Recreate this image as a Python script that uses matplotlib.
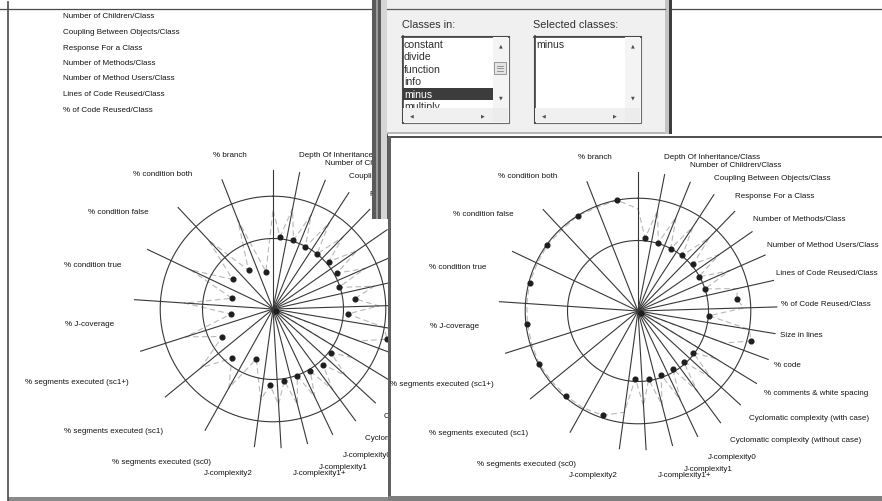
import numpy as np
import matplotlib.pyplot as plt
from matplotlib.patches import Rectangle

W, H = 882, 502

metrics = [
    "Depth Of Inheritance/Class", "Number of Children/Class",
    "Coupling Between Objects/Class", "Response For a Class",
    "Number of Methods/Class", "Number of Method Users/Class",
    "Lines of Code Reused/Class", "% of Code Reused/Class",
    "Size in lines", "% code", "% comments & white spacing",
    "Cyclomatic complexity (with case)", "Cyclomatic complexity (without case)",
    "J-complexity0", "J-complexity1", "J-complexity1+", "J-complexity2",
    "% segments executed (sc0)", "% segments executed (sc1)",
    "% segments executed (sc1+)", "% J-coverage", "% condition true",
    "% condition false", "% condition both", "% branch",
]
n_static = 17          # static metrics take the first part of the dial
static_span = 187.7    # degrees used by the static metrics

# metric values, 1.0 = reference ring
all_classes = [1.03, 1.02, 0.99, 1.00, 1.04, 1.04, 0.98, 1.17, 1.06, 1.67,
               0.05, 1.03, 1.06, 1.03, 1.01, 1.03, 1.08,
               0.75, 0.91, 0.82, 0.60, 0.60, 0.71, 0.65, 0.54]
minus = [1.04, 1.01, 1.00, 1.01, 1.03, 0.99, 1.00, 1.41, 1.01, 1.66,
         0.05, 0.98, 0.97, 0.96, 0.96, 0.98, 0.96,
         1.56, 1.58, 1.59, 1.58, 1.59, 1.59, 1.60, 1.60]

# spread of the metric across the classes, read on each spoke
all_classes_spread = [1.40, 1.45, 1.44, 1.46, 1.42, 1.45, 1.43, 1.47, 1.50, 1.60,
                      1.30, 1.32, 1.40, 1.42, 1.38, 1.40, 1.36,
                      1.30, 1.28, 1.32, 1.30, 1.26, 1.30, 1.34, 1.36]
minus_spread = [1.45, 1.45, 1.44, 1.42, 1.45, 1.40, 1.42, 1.45, 1.50, 1.60,
                1.30, 1.30, 1.40, 1.41, 1.40, 1.38, 1.35,
                1.45, 1.58, 1.58, 1.58, 1.58, 1.58, 1.58, 1.58]

rings = [1.0, 1.6]
spoke_len = 1.97

class_list = ["constant", "divide", "function", "info", "minus", "multiply"]
selected = ["minus"]

LABEL_FONT = "Liberation Sans"
LABEL_SIZE = 5.8

widths = [static_span / n_static] * n_static + \
         [(360 - static_span) / (len(metrics) - n_static)] * (len(metrics) - n_static)
bounds = np.concatenate([[0], np.cumsum(widths)])
mids = (bounds[:-1] + bounds[1:]) / 2

fig = plt.figure(figsize=(W / 100, H / 100), dpi=100)


def pixel_axes():
    a = fig.add_axes([0, 0, 1, 1])
    a.set_xlim(0, W)
    a.set_ylim(H, 0)
    a.set_axis_off()
    return a


def box(a, x, y, w, h, fc, ec="none", lw=0.0, z=1):
    a.add_patch(Rectangle((x, y), w, h, facecolor=fc, edgecolor=ec, linewidth=lw, zorder=z))


def arrow(a, x, y, ch, z=5):
    a.text(x, y, ch, fontsize=3.5, ha="center", va="center", color="#505050",
           family="DejaVu Sans", zorder=z)


def kiviat(cx, cy, vals, spread):
    rad = 141
    ax = fig.add_axes([(cx - rad) / W, (H - cy - rad) / H, 2 * rad / W, 2 * rad / H],
                      projection="polar")
    ax.set_theta_zero_location("N")
    ax.set_theta_direction(-1)
    ax.set_ylim(0, 2.0)
    ax.set_axis_off()

    # grey zigzag: spoke spread -> sector value -> next spoke spread
    th, rr = [], []
    for k in range(len(vals)):
        th += [bounds[k], mids[k]]
        rr += [spread[k], vals[k]]
    th.append(360)
    rr.append(spread[0])
    ax.plot(np.radians(th), rr, color="#b8b8b8", lw=0.8, ls=(0, (5, 3)))

    t = np.linspace(0, 2 * np.pi, 400)
    for r in rings:
        ax.plot(t, np.full_like(t, r), color="#383838", lw=0.8)
    for b in np.radians(bounds[:-1]):
        ax.plot([b, b], [0, spoke_len], color="#383838", lw=0.8)
    ax.plot(np.radians(mids), vals, "o", ms=3.4, color="#1e1e1e", ls="none")

    for lab, m in zip(metrics, mids):
        a = np.radians(m + 3)
        right = m < 180
        dx = 137 * np.sin(a) + 6 if right else 153 * np.sin(a) - 6
        dy = 160 * np.cos(a) - 4
        ax.annotate(lab, xy=(0, 0), xytext=(dx * 0.72, dy * 0.72),
                    textcoords="offset points", ha="left" if right else "right",
                    va="center", fontsize=LABEL_SIZE, family=LABEL_FONT, color="#141414")
    return ax


# left window
bg = pixel_axes()
bg.plot([0, W], [10, 10], color="#4a4a4a", lw=0.9)
bg.plot([8, 8], [3, H], color="#4a4a4a", lw=1.2)
box(bg, 8, 498, 380, 4, "#8a8a8a")
for i, lab in enumerate(metrics[1:8]):
    bg.text(63, 17 + i * 15.5, lab, fontsize=LABEL_SIZE, family=LABEL_FONT, va="center",
            color="#141414")

kiviat(273, 310, all_classes, all_classes_spread)

# class selection dialog and second window
ov = pixel_axes()
box(ov, 372, 0, 16, 220, "#5a5a5a")
box(ov, 376, 0, 2, 220, "#9a9a9a")
box(ov, 381, 0, 6, 220, "#d6d6d6")
box(ov, 387, 0, 278, 135, "#f0f0f0")
ov.plot([387, 665], [10, 10], color="#5a5a5a", lw=0.9)
box(ov, 665, 0, 4, 135, "#c4c4c4")
box(ov, 669, 0, 3, 135, "#3e3e3e")
box(ov, 387, 133, 278, 2, "#b8b8b8")

ov.text(402, 25, "Classes in:", fontsize=7.8, family="Liberation Sans", va="center",
        color="#303030")
ov.text(533, 25, "Selected classes:", fontsize=7.8, family="Liberation Sans", va="center",
        color="#303030")

for x0 in (402, 534):
    box(ov, x0, 37, 107, 87, "white", ec="#6a6a6a", lw=0.8)
    ov.plot([x0, x0 + 107], [37.5, 37.5], color="#404040", lw=1.2)
    ov.plot([x0 + 0.5, x0 + 0.5], [37, 124], color="#404040", lw=1.2)
    box(ov, x0 + 91, 38, 15, 71, "#f4f4f4", z=4)
    box(ov, x0 + 1, 109, 90, 14, "#f0f0f0", z=4)
    box(ov, x0 + 91, 109, 15, 14, "#ececec", z=4)
    arrow(ov, x0 + 98.5, 46, "\u25b2")
    arrow(ov, x0 + 98.5, 98, "\u25bc")
    arrow(ov, x0 + 10, 116, "\u25c0")
    arrow(ov, x0 + 81, 116, "\u25b6")

# scroll thumb of the class list
box(ov, 494, 63, 12, 12, "#e4e4e4", ec="#8a8a8a", lw=0.6, z=5)
for yy in (66.5, 69, 71.5):
    ov.plot([497, 503], [yy, yy], color="#707070", lw=0.5, zorder=6)

for i, name in enumerate(class_list):
    y = 44.5 + i * 12.6
    if name in selected:
        box(ov, 403, y - 5.5, 90, 11.5, "#3c3c3c", z=2)
        col = "white"
    else:
        col = "#303030"
    ov.text(404, y, name, fontsize=7.6, family="Liberation Sans", va="center", color=col,
            zorder=3)
for i, name in enumerate(selected):
    ov.text(536, 44.5 + i * 12.6, name, fontsize=7.6, family="Liberation Sans", va="center",
            color="#303030")

box(ov, 388, 137, W - 388, H - 137, "white", z=7)
ov.plot([388, W], [138, 138], color="#404040", lw=1.3, zorder=8)
box(ov, 388, 137, 3, H - 137, "#606060", z=8)
box(ov, 388, 497, W - 388, 5, "#7e7e7e", z=8)

kiviat(638, 312, minus, minus_spread)

fig.savefig("out.png", dpi=100)
